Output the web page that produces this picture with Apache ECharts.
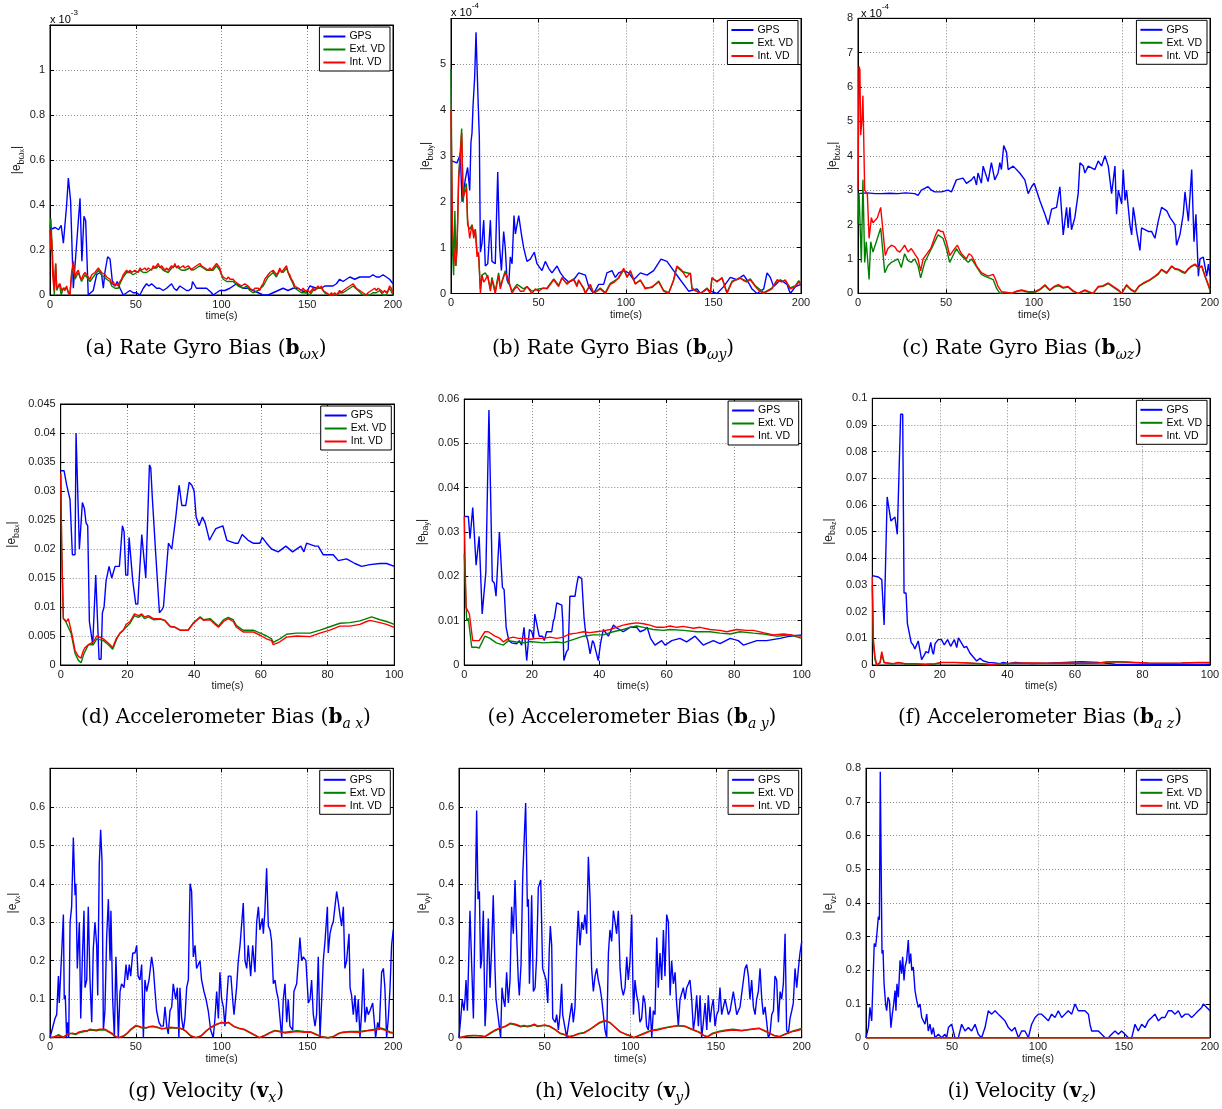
<!DOCTYPE html>
<html>
<head>
<meta charset="utf-8">
<script src="https://cdn.jsdelivr.net/npm/echarts@6/dist/echarts.min.js"></script>
<style>
  html, body { margin: 0; padding: 0; background: #fff; }
  #chart { width: 1222px; height: 1109px; }
</style>
</head>
<body>
<div id="chart"></div>
<script>
// ---- Series data: [time (s), |error|] ----
// (a) rate gyro bias x, values in units of 1e-3
const gpsA = [[0,0.29],[3,0.3],[5,0.29],[6.5,0.31],[7.8,0.23],[9.7,0.4],[10.7,0.52],[12,0.42],[13.6,0.03],[14.6,0.03],[17.5,0.43],[18.6,0.15],[19.8,0.35],[20.8,0.33],[22.3,0],[23.3,0],[25.2,0.02],[27.2,0.09],[29.1,0.1],[30.1,0.09],[31.1,0.03],[32,0.1],[33.6,0.17],[35,0.16],[36.5,0.05],[37.9,0.04],[39.2,0.06],[40.8,0.03],[42.7,0],[44.7,0.01],[46.6,0.02],[48.5,0.01],[50.5,0.01],[52.4,0],[54.4,0.03],[56.3,0.05],[57.7,0.04],[59.2,0.05],[60.7,0.04],[62.1,0.03],[64,0.03],[66,0.02],[68,0.03],[70.9,0.05],[72.3,0.03],[73.8,0.02],[75.7,0.04],[77.7,0.03],[79.6,0.02],[81,0.02],[82.5,0.03],[83.1,0.06],[85.4,0.03],[88.3,0.03],[91.3,0.03],[94.2,0.01],[95.1,0],[97.1,0.01],[99,0.02],[102,0.02],[104.9,0.03],[106.8,0.04],[108.7,0.05],[110.7,0.04],[112.6,0.03],[115.5,0.03],[118.4,0.02],[121.4,0.01],[124.3,0],[127.2,0],[130.1,0.01],[133,0.02],[135.9,0.03],[138.8,0.02],[141.7,0.03],[144.7,0.03],[146.6,0.02],[149.5,0.01],[151.5,0.04],[155.3,0.03],[158.3,0.03],[160.2,0.04],[162.1,0.04],[165,0.04],[167,0.05],[168.9,0.07],[170.9,0.06],[172.8,0.07],[174.8,0.08],[177.7,0.07],[180.6,0.08],[183.5,0.08],[186.4,0.08],[188.3,0.09],[190.3,0.08],[192.2,0.08],[194.2,0.09],[196.1,0.08],[198,0.07],[199,0.06],[200,0.05]];
const extA = [[0,0.3],[0.5,0.34],[1,0.34],[2.5,0],[3.3,0.14],[4,0.02],[5.5,0.05],[6.5,0],[7.8,0.03],[9.7,0.03],[11.6,0],[12.6,0.09],[13.6,0.14],[14.6,0.07],[16.5,0.1],[18.4,0.06],[20.4,0.09],[21.4,0.08],[23.3,0.06],[25.2,0.08],[26.2,0.09],[28.2,0.11],[30.1,0.09],[31.1,0.09],[33,0.07],[35,0.06],[36,0.04],[37.9,0.03],[39.8,0.03],[40.8,0.05],[42.7,0.08],[44.7,0.1],[46.6,0.1],[48.5,0.09],[50.5,0.1],[52.4,0.11],[54.4,0.1],[56.3,0.1],[58.3,0.11],[60.2,0.12],[62.1,0.12],[63.1,0.13],[65,0.12],[66,0.11],[68.9,0.1],[70.9,0.12],[72.8,0.13],[74.8,0.12],[76.7,0.11],[78.6,0.11],[81.6,0.12],[83.5,0.11],[85.4,0.12],[87.4,0.13],[89.3,0.12],[91.3,0.11],[93.2,0.11],[95.1,0.11],[97.1,0.13],[99,0.11],[101,0.07],[103,0.06],[106.8,0.06],[109.7,0.04],[112.6,0.03],[114.6,0.04],[116.5,0.02],[118.4,0.01],[121.4,0.02],[124.3,0.04],[127.2,0.08],[130.1,0.1],[132,0.08],[134,0.11],[135.9,0.1],[137.9,0.12],[139.8,0.08],[141.7,0.05],[142.7,0.03],[144.7,0.02],[146.6,0.01],[149.5,0.01],[151.5,0],[153.4,0.02],[156.3,0.03],[158.3,0.03],[160.2,0.01],[163.1,0],[167,0],[168.9,0.01],[170.9,0.01],[172.8,0.02],[174.8,0.03],[176.7,0.04],[179.6,0.02],[182.5,0],[184.5,0],[186.4,0],[188.3,0.01],[190.3,0.01],[192.2,0.02],[194.2,0],[196.1,0],[198,0.03],[200,0]];
const intA = [[0,0.29],[0.5,0.2],[1,0.25],[1.5,0.1],[2,0.05],[2.5,0.02],[3.3,0.14],[3.9,0.03],[4.8,0.04],[5.8,0.05],[6.8,0.02],[7.8,0.03],[8.7,0.02],[9.7,0.04],[10.6,0.01],[11.6,0],[12.6,0.1],[13.6,0.15],[14.6,0.08],[15.5,0.1],[16.5,0.11],[17.5,0.08],[18.4,0.07],[19.4,0.09],[20.4,0.1],[21.4,0.09],[22.3,0.08],[23.3,0.07],[24.3,0.09],[25.2,0.09],[26.2,0.1],[27.2,0.1],[28.2,0.12],[29.1,0.11],[30.1,0.1],[31.1,0.1],[32.1,0.09],[33,0.08],[34,0.08],[35,0.07],[36,0.05],[36.9,0.06],[37.9,0.04],[38.8,0.05],[39.8,0.04],[40.8,0.06],[41.7,0.07],[42.7,0.09],[43.7,0.1],[44.7,0.11],[45.6,0.1],[46.6,0.11],[47.6,0.1],[48.5,0.1],[49.5,0.11],[50.5,0.11],[51.5,0.1],[52.4,0.12],[53.4,0.11],[54.4,0.11],[55.3,0.12],[56.3,0.11],[57.3,0.12],[58.3,0.12],[59.2,0.11],[60.2,0.13],[61.2,0.12],[62.1,0.13],[63.1,0.14],[64.1,0.12],[65,0.13],[66,0.12],[67,0.11],[68,0.12],[68.9,0.11],[69.9,0.12],[70.9,0.13],[71.8,0.12],[72.8,0.14],[73.8,0.12],[74.8,0.13],[75.7,0.12],[76.7,0.12],[77.7,0.13],[78.6,0.12],[79.6,0.12],[80.6,0.13],[81.6,0.13],[82.5,0.11],[83.5,0.12],[84.5,0.12],[85.4,0.13],[86.4,0.13],[87.4,0.14],[88.3,0.13],[89.3,0.13],[90.3,0.12],[91.3,0.12],[92.2,0.11],[93.2,0.12],[94.2,0.11],[95.1,0.12],[96.1,0.13],[97.1,0.14],[98.1,0.13],[99,0.12],[100,0.09],[101,0.08],[102,0.08],[103,0.07],[104,0.08],[105,0.07],[106.8,0.07],[107.8,0.06],[108.7,0.06],[109.7,0.05],[110.7,0.05],[111.7,0.04],[112.6,0.04],[113.6,0.05],[114.6,0.05],[115.5,0.04],[116.5,0.03],[117.5,0.03],[118.4,0.02],[119.4,0.03],[120.4,0.03],[121.4,0.03],[122.3,0.02],[123.3,0.04],[124.3,0.05],[125.2,0.07],[126.2,0.08],[127.2,0.09],[128.2,0.1],[129.1,0.1],[130.1,0.11],[131.1,0.1],[132,0.09],[133,0.1],[134,0.12],[135,0.1],[135.9,0.11],[136.9,0.12],[137.9,0.13],[138.8,0.1],[139.8,0.09],[140.8,0.07],[141.7,0.06],[142.7,0.04],[143.7,0.04],[144.7,0.03],[145.6,0.03],[146.6,0.02],[147.6,0.03],[148.5,0.02],[149.5,0.02],[150.5,0.02],[151.5,0.01],[152.4,0.02],[153.4,0.03],[154.4,0.02],[155.3,0.03],[156.3,0.04],[157.3,0.03],[158.3,0.04],[159.2,0.02],[160.2,0.02],[161.2,0.01],[162.1,0.01],[163.1,0],[164.1,0.01],[165,0],[166,0.01],[167,0],[168,0.01],[168.9,0.02],[169.9,0.01],[170.9,0.02],[171.8,0.02],[172.8,0.03],[173.8,0.03],[174.8,0.04],[175.7,0.04],[176.7,0.05],[177.7,0.04],[178.6,0.03],[179.6,0.03],[180.6,0.02],[181.6,0.02],[182.5,0.01],[183.5,0.01],[184.5,0],[185.4,0.01],[186.4,0.01],[187.4,0.02],[188.3,0.02],[189.3,0.03],[190.3,0.02],[191.3,0.03],[192.2,0.03],[193.2,0.02],[194.2,0.01],[195.1,0.02],[196.1,0.01],[197.1,0.02],[198,0.04],[199,0.03],[200,0.01]];

// (b) rate gyro bias y, values in units of 1e-4
const gpsB = [[0,2.9],[3.4,2.85],[5,3.0],[5.3,3.05],[6.3,2.0],[7.2,2.2],[8.2,2.5],[9.5,2.75],[10.7,2.25],[11.4,3.3],[12,3.5],[12.6,4.1],[13.5,4.7],[14.3,5.7],[14.9,5.7],[15.4,4.3],[16.2,3.4],[16.8,0.9],[17.7,1.1],[18.7,1.6],[19.6,0.6],[21,0.65],[22.5,1.6],[23.4,0.7],[25.3,0.65],[26.7,2.65],[27.8,1.0],[28.8,0.5],[30.1,1.35],[31,1.0],[32,0.3],[33,0.2],[33.9,0.8],[34.9,0.65],[36,1.7],[36.8,1.3],[38.7,1.7],[40.2,1.3],[41.5,1.0],[43.4,0.7],[45.3,0.75],[47.6,0.9],[49.1,0.65],[52,0.5],[53.9,0.7],[55.8,0.55],[57.7,0.45],[60.6,0.6],[62.5,0.45],[64.4,0.35],[67.2,0.25],[70.1,0.3],[73,0.45],[76.8,0.4],[78.7,0.15],[81.5,0],[84.4,0.2],[87.2,0.2],[89.1,0.45],[92,0.5],[93.9,0.35],[95.8,0.45],[98.7,0.5],[101.5,0.45],[104.4,0.3],[108.2,0.45],[112,0.4],[115.8,0.5],[120,0.75],[123.4,0.7],[127.2,0.5],[131,0.3],[133.9,0.15],[135.8,0.05],[140.6,0.1],[142.5,0],[146.3,0.1],[148.2,0.05],[152,0],[155.8,0.15],[159.6,0.35],[163.4,0.3],[167.2,0.4],[169.1,0.3],[172,0.1],[174.9,0],[178.7,0.1],[180.6,0.45],[182.5,0.35],[184.4,0.15],[188.2,0.3],[192,0.2],[193.9,0],[196.8,0.15],[200,0.2]];
const extB = [[0,4.9],[0.8,1.0],[1.5,0.4],[2.2,1.8],[2.9,0.6],[3.6,1.3],[4.4,2.6],[5.3,3.1],[6.1,3.6],[6.9,2.0],[7.8,2.3],[8.8,2.4],[9.5,1.5],[10.7,1.4],[12,1.5],[13,1.3],[13.9,1.4],[14.9,0.9],[15.8,0.8],[16.8,0.1],[17.7,0.4],[19.6,0.45],[21,0.35],[22.5,0.1],[23.4,0.35],[25.3,0.05],[27.2,0.45],[28.2,0.15],[31,0.5],[32.9,0.25],[34.9,0.05],[37.7,0.2],[41.5,0.1],[43.4,0.15],[46.3,0.05],[50.1,0.1],[54.9,0.12],[58.7,0.32],[61.5,0.18],[63.4,0.33],[66.3,0.22],[70.1,0.32],[72,0.18],[72.9,0.28],[75.8,0.12],[76.8,0.02],[79.6,0.18],[81.5,0],[85.3,0.12],[88.2,0.02],[91,0.22],[95.8,0.33],[98.7,0.52],[100.6,0.37],[102.5,0.48],[105.3,0.22],[108.2,0.28],[111,0.12],[114.9,0.13],[118.7,0.27],[121.5,0.07],[124.4,0.02],[127.2,0.28],[129.1,0.58],[132,0.48],[136.8,0.43],[137.7,0.12],[142.5,0],[146.3,0.12],[148.2,0.02],[149.1,0.33],[152,0.27],[154.9,0.33],[157.7,0.02],[160.6,0.27],[165.3,0.33],[169.1,0.27],[171,0.32],[173.9,0.17],[178.7,0.02],[183.4,0.12],[186.3,0.28],[189.1,0.27],[191,0.28],[193.9,0.12],[196.8,0.17],[198.7,0.28],[200,0.22]];
const intB = [[0,4.0],[0.8,1.5],[1.5,1.0],[2.5,0.6],[3.4,0.9],[4.4,2.5],[5.3,3.0],[6.1,3.5],[6.9,2.1],[7.8,2.2],[8.8,2.3],[9.5,1.6],[10.7,1.2],[12,1.5],[13,1.2],[13.9,1.4],[14.9,0.8],[15.8,0.9],[16.8,0],[17.7,0.4],[18.7,0.25],[19.6,0.3],[21,0.4],[22.5,0.05],[23.4,0.3],[25.3,0],[27.2,0.4],[28.2,0.1],[29.5,0.3],[31,0.45],[32.9,0.3],[34.9,0],[36.3,0.1],[37.7,0.15],[39.6,0.05],[41.5,0.05],[43.4,0.15],[46.3,0],[48.2,0.1],[50.1,0.05],[52.5,0.12],[54.9,0.1],[56.8,0.2],[58.7,0.3],[61.5,0.15],[63.4,0.35],[66.3,0.2],[68.2,0.28],[70.1,0.3],[72,0.15],[72.9,0.3],[75.8,0.1],[76.8,0],[79.6,0.2],[81.5,0],[83.4,0.05],[85.3,0.1],[88.2,0],[91,0.2],[93.4,0.25],[95.8,0.35],[98.7,0.55],[100.6,0.35],[102.5,0.5],[105.3,0.2],[108.2,0.3],[111,0.1],[114.9,0.15],[118.7,0.25],[121.5,0.05],[124.4,0],[127.2,0.3],[129.1,0.6],[132,0.5],[134.4,0.35],[136.8,0.45],[137.7,0.1],[140,0.05],[142.5,0],[146.3,0.1],[148.2,0],[149.1,0.35],[152,0.25],[154.9,0.35],[157.7,0],[160.6,0.25],[163,0.3],[165.3,0.35],[167.2,0.28],[169.1,0.25],[171,0.3],[173.9,0.15],[176.3,0.05],[178.7,0],[181,0.05],[183.4,0.1],[186.3,0.3],[189.1,0.25],[191,0.3],[193.9,0.1],[196.8,0.15],[198.7,0.25],[200,0.2]];

// (c) rate gyro bias z, values in units of 1e-4
const gpsC = [[0,2.9],[5,2.92],[10,2.9],[13.3,2.9],[18,2.91],[22.7,2.9],[27,2.92],[32.2,2.9],[34.1,2.85],[36,3.0],[39.8,3.1],[41.7,3.0],[43.6,2.95],[47.4,2.95],[51.2,3.0],[53.1,2.95],[55.9,3.3],[59.7,3.35],[61.6,3.2],[64.5,3.3],[66,3.4],[67.3,3.15],[68.2,3.5],[70.1,3.2],[71.1,3.7],[72,3.7],[73.9,3.25],[75.8,3.8],[77.7,3.3],[79.6,3.5],[80.6,3.8],[81.5,3.6],[82.8,4.3],[84.4,4.1],[85.3,3.6],[88.2,3.7],[91.9,3.5],[94.8,3.3],[96.7,2.9],[98.6,3.1],[100.1,3.2],[101.4,3.0],[103.3,2.7],[106.2,2.3],[108.1,2.0],[110,2.45],[112.8,2.5],[114.7,3.1],[116.6,1.7],[118.5,2.5],[119.4,1.9],[120.4,2.5],[121.3,1.85],[123.2,2.2],[125.1,2.9],[126.1,3.8],[128,3.7],[128.9,3.5],[130.8,3.7],[134.6,3.6],[136.5,3.85],[138.4,3.7],[140.3,4.0],[142.2,3.7],[144.1,2.9],[146,3.7],[146.9,2.3],[147.9,3.0],[149.8,2.6],[150.7,3.6],[151.7,2.7],[152.6,3.0],[154.5,2.0],[155.5,1.7],[156.4,2.5],[157.3,2.2],[158.3,1.8],[160.2,1.25],[161.1,1.9],[164.9,1.8],[166.8,1.8],[168.7,1.6],[170.6,2.1],[172.5,2.5],[175.4,2.4],[177.3,2.2],[180.1,2.0],[181,1.4],[182.9,1.7],[184.8,2.3],[185.8,2.95],[187.7,2.1],[189.6,3.6],[190.9,1.5],[192,2.3],[193.4,0.5],[194.3,1.0],[196.2,1.05],[198.1,0.5],[199.1,0.85],[200,0.5]];
const extC = [[0,2.0],[0.6,2.9],[1.9,0.9],[2.8,3.3],[3.8,0.9],[4.7,1.5],[6.3,0.4],[7.2,1.5],[8.5,1.2],[10.4,1.5],[12.9,1.9],[15.2,0.6],[17,0.8],[19,0.9],[20.9,0.95],[22.7,1.0],[24.6,0.75],[26.5,1.15],[28.4,0.95],[30.3,0.9],[32.2,1.0],[34.1,0.8],[35.6,0.45],[37.9,0.9],[39.8,1.1],[42.7,1.4],[45.5,1.7],[48.3,1.6],[50.2,1.3],[52.1,0.9],[54,1.1],[55.9,1.3],[57.8,1.15],[59.7,1.05],[62.6,0.9],[64.5,1.0],[66.4,0.85],[68.2,0.7],[70.1,0.55],[72,0.5],[74.4,0.45],[76.8,0.4],[78.7,0.15],[80.6,0],[84,0.02],[87.2,0],[90,0.05],[92.9,0.08],[96.7,0.03],[100.5,0.03],[103.3,0.1],[106.2,0.22],[109,0.08],[111.4,0.18],[113.8,0.22],[116.6,0.15],[119.4,0.18],[122.3,0.05],[125.1,0],[128.9,0.08],[131.2,0.03],[133.6,0],[136.5,0.18],[139.3,0.2],[142.2,0.28],[145,0.18],[147.9,0.08],[149.8,0],[152.6,0.22],[155,0.1],[157.3,0.03],[159.7,0.2],[162.1,0.28],[165.9,0.38],[168.7,0.48],[170.6,0.55],[172.5,0.68],[175.4,0.58],[178.2,0.78],[180.1,0.7],[182,0.68],[183.9,0.62],[185.8,0.58],[187.7,0.7],[189.6,0.78],[191.5,0.83],[193.4,0.73],[195.3,0.78],[197.2,0.48],[199.1,0.22],[200,0.08]];
const intC = [[0,3.0],[0.6,6.6],[1.1,6.5],[1.5,4.6],[2.2,5.0],[2.8,5.75],[3.8,3.0],[5.3,2.9],[6.3,1.6],[7.6,2.2],[8.5,2.05],[9.5,2.0],[11,2.2],[12.9,2.5],[14.2,1.8],[15.5,1.1],[17,1.3],[19,1.4],[20.9,1.35],[22.2,1.25],[23.7,1.2],[25.2,1.3],[26.5,1.4],[28.4,1.2],[30.3,1.3],[32.2,1.15],[34.1,1.0],[35.6,0.65],[37,1.0],[39.8,1.2],[41.3,1.3],[42.7,1.5],[44.1,1.7],[45.5,1.85],[47,1.8],[48.3,1.8],[50.2,1.5],[52.1,1.1],[53.5,1.2],[54.9,1.3],[56.5,1.4],[57.8,1.25],[58.8,1.15],[61.6,1.0],[63,1.15],[64.5,1.1],[66,0.95],[67.3,0.8],[70.1,0.6],[72,0.55],[73.9,0.5],[76.8,0.55],[78.2,0.4],[79.6,0.2],[81.5,0.05],[84,0.03],[87.2,0],[90,0.06],[92.9,0.1],[96.7,0.05],[100.5,0.05],[103.3,0.12],[106.2,0.25],[109,0.1],[111.4,0.2],[113.8,0.25],[116.6,0.17],[119.4,0.2],[122.3,0.07],[125.1,0],[128.9,0.1],[131.2,0.05],[133.6,0],[136.5,0.2],[139.3,0.22],[142.2,0.3],[145,0.2],[147.9,0.1],[149.8,0],[152.6,0.25],[155,0.12],[157.3,0.05],[159.7,0.22],[162.1,0.3],[165.9,0.4],[168.7,0.5],[170.6,0.58],[172.5,0.7],[175.4,0.6],[178.2,0.8],[180.1,0.72],[182,0.7],[183.9,0.65],[185.8,0.6],[187.7,0.72],[189.6,0.8],[191.5,0.85],[193.4,0.75],[195.3,0.8],[197.2,0.5],[199.1,0.25],[200,0.1]];

// (d) accelerometer bias x
const gpsD = [[0,0.0335],[1,0.0335],[1.8,0.031],[2.8,0.0285],[3.1,0.0285],[3.5,0.019],[4.3,0.019],[4.6,0.04],[5.1,0.04],[5.6,0.02],[6.1,0.02],[6.5,0.028],[7.1,0.027],[7.6,0.0245],[8.1,0.024],[8.6,0.0075],[9,0.0075],[9.6,0.0035],[10.1,0.0035],[10.5,0.0155],[11,0.0155],[11.5,0.001],[12.1,0.001],[12.5,0.009],[13,0.01],[13.6,0.0145],[14.5,0.017],[15.3,0.015],[16.3,0.017],[17.6,0.017],[18.5,0.024],[19,0.023],[19.5,0.0155],[20.1,0.0155],[20.5,0.022],[21,0.022],[21.6,0.0145],[22.5,0.0105],[23.1,0.0105],[24.3,0.0225],[24.8,0.0225],[25.5,0.015],[26,0.015],[26.6,0.0345],[27,0.034],[27.5,0.0285],[28,0.0285],[28.5,0.019],[29.6,0.009],[30.3,0.0095],[30.8,0.01],[32.3,0.021],[33.3,0.02],[34.5,0.0255],[35.5,0.031],[36.3,0.0275],[37.5,0.0275],[38.5,0.0315],[39.3,0.031],[40,0.03],[40.6,0.0255],[41.5,0.024],[42.5,0.0255],[43.3,0.0245],[44.6,0.0215],[45.5,0.0225],[46.5,0.0235],[48.6,0.024],[49.8,0.0215],[52.2,0.021],[53.2,0.021],[54.4,0.0225],[56.2,0.0215],[57.7,0.021],[59.7,0.021],[60.4,0.022],[61.7,0.021],[63.2,0.02],[65.2,0.0195],[67.5,0.0205],[69.5,0.0195],[72,0.0205],[72.9,0.0195],[73.7,0.021],[76.2,0.0205],[77.2,0.0205],[78.7,0.019],[81.7,0.019],[83.2,0.018],[85.7,0.0183],[88.2,0.0175],[90.2,0.017],[92.7,0.0173],[95.7,0.0175],[97.7,0.0175],[100,0.017]];
const extD = [[0,0.033],[0.3,0.02],[0.8,0.008],[1.5,0.0075],[3.1,0.0055],[4.3,0.002],[5.3,0.0008],[6.1,0.0004],[7,0.002],[8.3,0.0035],[9.8,0.0035],[10.8,0.0045],[12.8,0.0042],[14.3,0.0035],[15.6,0.0027],[16.8,0.0045],[17.8,0.0055],[19.6,0.0065],[20.8,0.0072],[22.1,0.0085],[23.3,0.0082],[24.3,0.0086],[25.1,0.008],[26.3,0.0083],[27.8,0.0078],[29.8,0.0079],[31.3,0.0076],[32.8,0.0066],[34.3,0.0065],[35.8,0.006],[38.2,0.006],[39.8,0.0073],[41.8,0.0083],[42.8,0.0078],[44.8,0.008],[46.3,0.0072],[47.3,0.0067],[48.8,0.0078],[50.2,0.0082],[51.7,0.0078],[52.7,0.0068],[54.7,0.006],[57.7,0.006],[60.2,0.0054],[61.7,0.005],[63.2,0.0045],[63.7,0.0039],[65.7,0.0045],[67.7,0.0053],[70.7,0.0055],[74.7,0.0055],[77.7,0.006],[80.7,0.0066],[83.7,0.0072],[86.7,0.0073],[89.7,0.0076],[91.7,0.008],[93.2,0.0083],[95.7,0.0078],[97.7,0.0075],[100,0.007]];
const intD = [[0,0.033],[0.3,0.02],[0.8,0.008],[1.8,0.0075],[2.3,0.008],[3.3,0.0055],[4.3,0.0025],[5.3,0.0015],[6.1,0.0012],[6.8,0.0025],[7.3,0.003],[8.3,0.0035],[9.8,0.004],[10.8,0.005],[12.8,0.0045],[13.8,0.004],[14.8,0.0035],[15.6,0.003],[16.6,0.0045],[17.8,0.0055],[18.8,0.006],[19.6,0.007],[20.8,0.0075],[22.1,0.0088],[23.3,0.0085],[24.3,0.0088],[25.1,0.0083],[26.3,0.0085],[27.8,0.008],[29.8,0.008],[31.3,0.0077],[32.8,0.0067],[34.3,0.0065],[35.8,0.006],[38.2,0.006],[39.8,0.0072],[41.8,0.0082],[42.8,0.0077],[44.8,0.0078],[46.3,0.007],[47.3,0.0065],[48.8,0.0075],[50.2,0.008],[51.7,0.0075],[52.7,0.0065],[54.7,0.0057],[57.7,0.0057],[60.2,0.005],[61.7,0.0045],[63.2,0.0042],[63.7,0.0035],[65.7,0.004],[67.7,0.0048],[70.7,0.005],[74.7,0.0049],[77.7,0.0055],[80.7,0.006],[83.7,0.0067],[86.7,0.0067],[89.7,0.007],[91.7,0.0075],[92.7,0.0077],[95.7,0.0073],[97.7,0.007],[100,0.0065]];

// (e) accelerometer bias y
const gpsE = [[0,0.0335],[1.2,0.0335],[1.7,0.0285],[2,0.0285],[2.5,0.0355],[3,0.0355],[3.5,0.0225],[4,0.0225],[4.4,0.029],[4.8,0.029],[5.3,0.0115],[5.8,0.0115],[6.4,0.021],[6.8,0.021],[7.3,0.0575],[7.8,0.0575],[8.3,0.019],[8.9,0.0185],[9.4,0.0155],[9.9,0.0155],[10.4,0.03],[10.8,0.03],[11.3,0.0175],[11.8,0.017],[12.4,0.0085],[12.7,0.0085],[13.2,0.0055],[14,0.005],[15.5,0.0048],[16.3,0.0055],[17,0.0045],[17.7,0.0085],[18,0.0085],[18.5,0.001],[19,0.001],[19.3,0.008],[20,0.0075],[20.5,0.006],[20.9,0.0115],[21.4,0.0115],[22.2,0.0065],[23.2,0.0065],[23.7,0.0055],[24.4,0.0075],[25.9,0.0075],[26.4,0.01],[26.7,0.0105],[27.4,0.014],[28.9,0.0135],[29.2,0.0095],[29.5,0.001],[30,0.001],[30.3,0.003],[30.8,0.0035],[31.3,0.0155],[32.8,0.0155],[33.3,0.018],[33.8,0.02],[34.8,0.0195],[35.5,0.0105],[36,0.007],[36.6,0.0055],[37.3,0.0025],[38,0.0055],[38.4,0.005],[39.7,0.001],[40.4,0.005],[41.2,0.008],[42.7,0.0065],[44.2,0.009],[44.9,0.0085],[47.1,0.0075],[49.1,0.0085],[51.1,0.0085],[52.1,0.0075],[53.6,0.008],[54.2,0.0085],[55.2,0.006],[56.5,0.0045],[58.5,0.0055],[59.5,0.0045],[61.5,0.0055],[63.9,0.006],[65.9,0.0052],[68.4,0.0065],[70.8,0.0045],[73.8,0.0055],[75.8,0.0048],[78.8,0.006],[81.2,0.0055],[82.7,0.0045],[86.7,0.0055],[89.6,0.0055],[93.6,0.006],[96.5,0.0065],[100,0.0068]];
const extE = [[0,0.025],[0.7,0.01],[1.2,0.0105],[2.2,0.004],[3.7,0.004],[4.4,0.0038],[6.1,0.0065],[7.6,0.006],[9.5,0.005],[11.6,0.0045],[13.1,0.0055],[15.5,0.0052],[18,0.005],[19.5,0.0053],[23.4,0.005],[27.4,0.0052],[29.3,0.005],[31.3,0.0055],[33.3,0.006],[35.3,0.0065],[38.2,0.0068],[41.2,0.0068],[44.1,0.0075],[47.1,0.008],[49.1,0.0085],[51.1,0.0088],[53.1,0.0085],[56,0.008],[59,0.0078],[61,0.008],[65,0.0078],[68.9,0.0075],[72.8,0.0075],[75.8,0.0072],[78.8,0.007],[81.7,0.0075],[85.7,0.0072],[88.6,0.007],[92.6,0.0065],[96.5,0.0068],[100,0.006]];
const intE = [[0,0.0335],[0.5,0.013],[1.2,0.012],[1.5,0.0115],[2.5,0.0055],[3.7,0.0055],[4.4,0.0055],[6.1,0.0075],[7.1,0.0075],[9.1,0.0065],[10.6,0.006],[11.6,0.0052],[13.1,0.006],[14.5,0.0063],[16,0.006],[18,0.006],[19.5,0.0058],[21.4,0.006],[23.4,0.006],[25.4,0.0063],[27.4,0.006],[29.3,0.0063],[31.3,0.007],[33.3,0.0072],[35.3,0.0075],[37.2,0.0073],[39.2,0.0075],[41.2,0.0077],[43.2,0.008],[45.1,0.0085],[47.1,0.009],[49.1,0.0093],[51.1,0.0095],[53.1,0.0093],[55,0.009],[57,0.0085],[59,0.0085],[61,0.0088],[63,0.0085],[64.9,0.0087],[67.9,0.0083],[69.9,0.0085],[72.8,0.008],[75.8,0.0078],[77.8,0.0075],[80.7,0.008],[83.7,0.0078],[85.7,0.0078],[88.6,0.0073],[91.6,0.0068],[94.6,0.007],[97.5,0.0067],[100,0.0065]];

// (f) accelerometer bias z
const gpsF = [[0,0.0335],[1.8,0.033],[2.8,0.032],[3.5,0.015],[3.9,0.015],[4.4,0.063],[4.9,0.063],[5.5,0.054],[5.9,0.0545],[6.7,0.0555],[7.4,0.049],[7.9,0.0495],[8.4,0.094],[9,0.094],[9.4,0.027],[10,0.027],[10.4,0.0155],[10.9,0.0155],[11.5,0.0085],[12.1,0.0075],[12.6,0.006],[13.6,0.009],[14.6,0.002],[15.3,0.0035],[15.9,0.005],[16.6,0.0045],[17.3,0.0085],[17.8,0.005],[18.1,0.004],[18.6,0.008],[19.5,0.0095],[20.5,0.0095],[21.3,0.0075],[22.3,0.0095],[23.2,0.007],[24.3,0.0095],[25,0.0065],[25.5,0.0102],[26.3,0.0085],[27.2,0.0065],[27.9,0.007],[28.9,0.0045],[29.9,0.003],[30.9,0.0015],[31.9,0.0025],[32.9,0.0015],[34.4,0.001],[36.3,0.0008],[37.8,0.0005],[38.8,0.001],[40.3,0.0005],[42.3,0.001],[47.2,0.0005],[52.1,0.0007],[57.1,0.001],[62,0.0012],[66.9,0.001],[71.9,0.0003],[76.8,0.0002],[81.7,0.0003],[91.6,0.0002],[100,0.0003]];
const extF = [[0,0.03],[0.3,0.008],[0.8,0.002],[1.3,0],[2.3,0.0008],[2.8,0.004],[3.5,0.0008],[4.7,0.0006],[6.2,0.0004],[7.7,0.0008],[9.7,0.0004],[12.6,0.0004],[15.6,0.0002],[18.6,0.0004],[20.5,0.0009],[24.5,0.0009],[28.4,0.0007],[32.4,0.0004],[35.3,0.0001],[38.3,0.0004],[42.3,0.0006],[47.2,0.0007],[52.1,0.0006],[57.1,0.0007],[62,0.0005],[66.9,0.0007],[69.9,0.0011],[73.8,0.0011],[77.8,0.0009],[81.7,0.0007],[86.7,0.0006],[91.6,0.0007],[96.5,0.0009],[100,0.0009]];
const intF = [[0,0.033],[0.3,0.01],[0.8,0.003],[1.3,0],[2.3,0.001],[2.8,0.005],[3.5,0.001],[4.7,0.0008],[6.2,0.0005],[7.7,0.001],[9.7,0.0005],[12.6,0.0005],[15.6,0.0003],[18.6,0.0005],[20.5,0.001],[24.5,0.001],[28.4,0.0008],[32.4,0.0005],[35.3,0.0002],[38.3,0.0005],[42.3,0.0007],[47.2,0.0008],[52.1,0.0007],[57.1,0.0008],[62,0.0006],[66.9,0.0008],[69.9,0.0012],[73.8,0.0012],[77.8,0.001],[81.7,0.0008],[86.7,0.0007],[91.6,0.0008],[96.5,0.001],[100,0.001]];

// (g) velocity x
const gpsG = [[0,0],[2.9,0.05],[3.9,0.06],[4.9,0.16],[5.4,0.09],[6.2,0.09],[6.8,0.22],[7.8,0.32],[8.3,0.1],[8.9,0.11],[9.7,0],[10.3,0.04],[10.9,0],[11.7,0.3],[12.6,0.34],[13.6,0.52],[14.6,0.37],[15.1,0.4],[15.9,0.18],[17.1,0.3],[17.9,0.05],[18.8,0.2],[19.8,0.33],[20.4,0.13],[21.4,0.15],[22.3,0.34],[23.3,0.15],[24.3,0.04],[25.2,0.23],[26.2,0.3],[27.2,0.24],[27.8,0.11],[28.7,0.45],[29.5,0.54],[30.3,0.46],[31.1,0.02],[32,0.07],[33,0.26],[34,0.36],[35,0.2],[35.5,0.33],[36.5,0.1],[37.5,0],[38.4,0.21],[39.8,0],[40.8,0.12],[41.7,0.14],[43.1,0.13],[44.3,0.19],[45.2,0.15],[46.2,0.19],[47,0.16],[48.2,0.22],[49.5,0.22],[50.5,0.24],[51.3,0.16],[52.4,0.15],[53.4,0.19],[54.4,0],[55.3,0.15],[56.3,0.12],[57.7,0.15],[59.2,0.21],[60.2,0.18],[61.2,0.12],[62.1,0.07],[63.5,0.04],[64.7,0.03],[66,0.03],[67,0.08],[68,0.03],[68.9,0.01],[69.9,0.07],[70.9,0.08],[71.8,0.14],[73.2,0.1],[74.2,0.13],[75.1,0],[75.7,0.13],[76.7,0.05],[77.7,0.02],[78.6,0.05],[79.6,0.13],[80.6,0.15],[81.6,0.4],[82.5,0.38],[83.5,0.21],[84.5,0.24],[85.4,0.18],[87.4,0.2],[88.3,0.15],[89.7,0.12],[90.9,0.1],[92.2,0.07],[93.6,0.02],[95.1,0],[96.1,0.05],[97.1,0.12],[98.1,0.05],[99,0.17],[100,0.1],[101,0.08],[101.9,0.03],[103.9,0.16],[105.4,0.16],[106.4,0.1],[107.2,0.06],[108.7,0.13],[109.7,0.2],[110.7,0.24],[112.6,0.35],[113.6,0.2],[114.6,0.18],[115.5,0.24],[116.9,0.16],[118.1,0.24],[119.4,0.17],[120.4,0.3],[121.4,0.34],[122.3,0.28],[123.7,0.31],[124.3,0.27],[125.2,0.33],[126.2,0.44],[127.2,0.29],[128.2,0.28],[129.1,0.25],[130.1,0.14],[131.1,0.15],[132,0.12],[133,0.1],[134,0.05],[135,0],[135.9,0.1],[136.9,0.14],[137.9,0.04],[138.8,0.1],[139.8,0.03],[141.4,0.02],[142.1,0.12],[143.7,0.14],[144.7,0.2],[145.6,0.26],[146.6,0.2],[147.6,0.21],[149.1,0.2],[150.5,0.09],[151.5,0.1],[152.4,0.15],[153.4,0.06],[154.4,0.03],[155.3,0.06],[156.3,0.21],[157.3,0],[158.3,0.1],[159.2,0.2],[160.2,0.25],[161.6,0.34],[162.1,0.22],[163.1,0.27],[164.1,0.29],[165,0.3],[166,0.34],[167,0.38],[168,0.35],[168.9,0.32],[169.9,0.29],[170.9,0.34],[171.8,0.18],[172.8,0.2],[174.2,0.27],[174.8,0.13],[175.7,0.11],[176.7,0.06],[177.7,0.11],[178.6,0.04],[179.6,0.1],[180.6,0],[181.6,0.07],[182.5,0.18],[183.5,0.04],[184.5,0.08],[185.4,0.06],[186.4,0.07],[188,0.09],[188.7,0.09],[189.7,0],[190.9,0.04],[191.8,0.02],[193.2,0.17],[194.2,0.18],[195.1,0.13],[196.1,0],[197.1,0.05],[198.1,0.13],[199,0.24],[200,0.28]];
const extG = [[0,0],[2,0.001],[5,0.008],[6.5,0.004],[8,0.002],[10,0.008],[11.5,0.012],[13,0.01],[15,0.008],[17,0.013],[20,0.016],[21.5,0.018],[23,0.02],[25,0.019],[27,0.018],[29,0.02],[30,0.018],[32,0.02],[33,0.019],[36,0.01],[38,0.003],[40,0],[43,0.004],[45,0.011],[47,0.02],[50,0.03],[51.5,0.029],[53,0.026],[56,0.025],[58,0.028],[60,0.029],[63,0.026],[65,0.023],[67,0.024],[70,0.026],[73,0.025],[75,0.025],[77,0.022],[79,0.017],[82,0.004],[85,0],[88,0.004],[91,0.017],[94,0.027],[97,0.034],[100,0.039],[102,0.037],[104,0.039],[107,0.029],[110,0.024],[113,0.021],[116,0.014],[119,0.007],[122,0],[125,0.006],[128,0.013],[131,0.019],[134,0.017],[137,0.014],[140,0.016],[144,0.018],[148,0.016],[152,0.015],[155,0.009],[158,0.003],[162,0],[165,0.003],[168,0.011],[170,0.014],[175,0.016],[180,0.016],[185,0.019],[189,0.022],[192,0.026],[195,0.022],[198,0.015],[200,0.013]];
const intG = [[0,0],[2,0.002],[5,0.005],[6.5,0.003],[8,0],[10,0.01],[11.5,0.01],[13,0.012],[15,0.01],[17,0.015],[20,0.018],[21.5,0.016],[23,0.022],[25,0.021],[27,0.02],[29,0.022],[30,0.02],[32,0.022],[33,0.02],[36,0.012],[38,0.004],[40,0],[43,0.005],[45,0.012],[47,0.022],[50,0.032],[51.5,0.03],[53,0.028],[56,0.026],[58,0.029],[60,0.03],[63,0.027],[65,0.024],[67,0.025],[70,0.027],[73,0.026],[75,0.026],[77,0.023],[79,0.018],[82,0.005],[85,0],[88,0.005],[91,0.018],[94,0.028],[97,0.035],[100,0.04],[102,0.038],[104,0.04],[107,0.03],[110,0.025],[113,0.022],[116,0.015],[119,0.008],[122,0],[125,0.005],[128,0.012],[131,0.018],[134,0.015],[137,0.012],[140,0.014],[144,0.016],[148,0.014],[152,0.014],[155,0.008],[158,0.002],[162,0],[165,0.002],[168,0.01],[170,0.013],[175,0.015],[180,0.014],[185,0.018],[189,0.02],[192,0.024],[195,0.02],[198,0.013],[200,0.012]];

// (h) velocity y
const gpsH = [[0,0],[1,0.05],[1.9,0.1],[2.9,0.07],[3.5,0.1],[4.1,0.15],[4.9,0.07],[5.6,0.07],[6.4,0.33],[7.4,0.33],[8.4,0.05],[9.3,0.3],[10.3,0.59],[11.1,0.36],[11.9,0.38],[12.6,0.18],[13.2,0.2],[14.2,0.33],[15.2,0.03],[15.8,0.08],[17.1,0.31],[18.1,0.13],[19.1,0.24],[20,0.37],[21,0.18],[21.6,0.1],[22.4,0.1],[23.5,0.03],[24.3,0],[25.1,0.13],[25.9,0.1],[26.8,0.08],[27.8,0.17],[28.8,0.09],[29.8,0.15],[30.7,0.34],[31.7,0.27],[32.7,0.41],[33.7,0.26],[34.6,0.15],[35.2,0.11],[36.2,0.19],[37.2,0.42],[38.9,0.61],[39.9,0.34],[40.5,0.36],[41.1,0.14],[41.8,0.24],[42.4,0.37],[43.4,0.12],[44.4,0.13],[45.3,0.21],[46.3,0.39],[47.7,0.41],[48.8,0.18],[49.8,0.18],[50.8,0.15],[51.8,0.09],[52.7,0.23],[53.3,0.29],[54.1,0.24],[54.7,0.05],[55.4,0.05],[56.2,0.04],[57,0.06],[58,0.02],[58.9,0.06],[59.9,0.14],[60.5,0.06],[61.3,0.06],[62.1,0.02],[62.8,0],[63.8,0.03],[64.8,0.06],[65.8,0.09],[66.7,0.04],[67.7,0.08],[68.7,0.24],[69.6,0.33],[70.6,0.24],[71.6,0.3],[72.6,0.28],[73.5,0.32],[74.5,0.27],[75.5,0.47],[76.5,0.36],[77.4,0.18],[78.4,0.12],[79.4,0.16],[80.4,0.18],[81.3,0.15],[82.3,0.13],[83.3,0.1],[84.2,0.1],[85.2,0.02],[86.2,0],[87.2,0.22],[88.1,0.28],[89.1,0.25],[90.1,0.33],[91.1,0.3],[92,0.27],[93,0.33],[94,0.18],[94.9,0.13],[95.9,0.11],[96.9,0.13],[97.9,0.21],[98.8,0.15],[99.8,0.2],[100.8,0.32],[101.8,0.06],[102.7,0.15],[103.7,0.11],[104.7,0.09],[105.6,0.04],[106.6,0.05],[107.6,0.11],[108.6,0.09],[109.5,0.03],[110.5,0.02],[111.5,0.08],[112.5,0],[113.4,0.07],[114.4,0.06],[115.4,0.26],[116.3,0.13],[117.3,0.22],[118.3,0.15],[119.3,0.28],[120.2,0.16],[121.2,0.32],[122.2,0.3],[123.2,0.11],[124.1,0.2],[125.1,0.14],[126.1,0.17],[127,0.09],[128,0.03],[129,0.1],[130,0.1],[130.9,0.13],[131.9,0.1],[132.9,0.13],[133.9,0.14],[134.8,0.15],[135.8,0.1],[136.8,0.02],[137.7,0.05],[138.7,0.11],[139.7,0.03],[140.7,0.11],[141.6,0],[142.6,0.04],[143.6,0.09],[144.6,0.02],[145.5,0.11],[146.5,0.04],[147.5,0.08],[148.4,0.1],[149.4,0.03],[150.4,0.06],[151.4,0.07],[152.3,0.13],[153.3,0.06],[154.3,0.06],[155.3,0.1],[156.2,0.1],[157.2,0.06],[158.2,0.07],[160.1,0.12],[162.1,0.06],[164,0.08],[166,0.15],[166.9,0.18],[167.9,0.19],[168.9,0.16],[169.8,0.1],[170.8,0.15],[171.8,0.08],[172.8,0.06],[173.7,0.1],[174.7,0.12],[175.7,0.18],[176.7,0.1],[177.6,0.06],[178.6,0.08],[179.6,0.04],[180.5,0],[181.5,0.01],[182.5,0.06],[183.5,0.07],[184.4,0.16],[185.4,0.15],[186.4,0.04],[187.4,0.12],[188.3,0.1],[189.3,0.14],[190.3,0.27],[191.2,0.02],[192.2,0.01],[193.2,0.05],[194.2,0.07],[195.1,0.09],[196.1,0.18],[197.1,0.13],[198.1,0.18],[199,0.22],[200,0.25]];
const extH = [[0,0],[3,0.002],[5,0.004],[8,0.005],[10,0.006],[13,0.004],[15,0.003],[18,0.01],[21,0.018],[24,0.024],[27,0.029],[30,0.036],[33,0.033],[36,0.028],[38,0.03],[40,0.028],[42,0.03],[44,0.033],[46,0.029],[47,0.032],[50,0.032],[53,0.029],[56,0.021],[59,0.011],[62,0.007],[64.5,0.003],[67,0.006],[70,0.011],[73,0.014],[76,0.021],[79,0.029],[82,0.038],[85,0.043],[88,0.039],[91,0.027],[94,0.015],[97,0.009],[100,0.004],[102,0],[105,0.006],[108,0.012],[112,0.019],[116,0.022],[120,0.026],[124,0.029],[128,0.031],[132,0.029],[136,0.021],[140,0.014],[143,0.006],[145,0.003],[148,0.012],[152,0.017],[156,0.02],[160,0.022],[165,0.019],[170,0.021],[175,0.024],[180,0.014],[184,0.006],[187,0.003],[190,0.009],[194,0.016],[197,0.02],[200,0.024]];
const intH = [[0,0],[3,0.003],[5,0.005],[8,0.006],[10,0.005],[13,0.005],[15,0.002],[18,0.012],[21,0.02],[24,0.025],[27,0.03],[30,0.038],[33,0.035],[36,0.03],[38,0.032],[40,0.03],[42,0.032],[44,0.035],[46,0.03],[47,0.034],[50,0.033],[53,0.03],[56,0.022],[59,0.012],[62,0.008],[64.5,0.002],[67,0.005],[70,0.01],[73,0.012],[76,0.02],[79,0.03],[82,0.04],[85,0.045],[88,0.04],[91,0.028],[94,0.016],[97,0.01],[100,0.005],[102,0],[105,0.005],[108,0.01],[112,0.018],[116,0.02],[120,0.025],[124,0.028],[128,0.032],[132,0.03],[136,0.022],[140,0.015],[143,0.005],[145,0.002],[148,0.01],[152,0.015],[156,0.018],[160,0.02],[165,0.018],[170,0.022],[175,0.025],[180,0.015],[184,0.005],[187,0.002],[190,0.008],[194,0.015],[197,0.018],[200,0.022]];

// (i) velocity z
const gpsI = [[0,0],[1.4,0.03],[2.3,0.09],[3.3,0.05],[3.9,0.05],[4.8,0.28],[5.6,0.27],[6.2,0.3],[7.2,0.36],[7.8,0.35],[8.3,0.79],[8.9,0.79],[9.3,0.25],[9.9,0.26],[10.5,0.16],[11.4,0.1],[12,0.08],[12.8,0.12],[13.6,0.11],[14.5,0.03],[15.3,0.07],[16.1,0.1],[16.9,0.14],[17.4,0.08],[18,0.16],[18.8,0.12],[19.8,0.23],[20.7,0.19],[21.3,0.24],[22.1,0.17],[22.7,0.21],[23.6,0.23],[24.6,0.29],[25.2,0.22],[26,0.25],[26.6,0.2],[27.5,0.21],[28.5,0.14],[29.5,0.11],[30.4,0.09],[31.4,0.1],[32.4,0.06],[33.3,0.06],[34.3,0.04],[35.3,0.07],[36.2,0.02],[37.2,0.04],[38.2,0.01],[39.1,0.03],[40.1,0],[42.1,0.01],[44,0],[45.9,0.01],[46.9,0],[47.9,0.03],[49.8,0.04],[51.7,0],[53.7,0],[55.6,0.04],[57.6,0.02],[59.5,0.03],[61.4,0.02],[63.4,0.04],[65.3,0.01],[67.2,0],[69.2,0.03],[71.1,0.08],[73.1,0.07],[75,0.08],[76.9,0.07],[78.9,0.06],[80.8,0.05],[82.8,0.03],[84.7,0.02],[86.6,0.03],[88.6,0],[90.5,0.02],[92.4,0.02],[94.4,0],[96.3,0.04],[98.3,0.06],[100.2,0.07],[102.1,0.07],[104.1,0.06],[106,0.05],[107.9,0.07],[109.9,0.06],[111.8,0.08],[113.8,0.06],[115.7,0.07],[117.6,0.08],[119.6,0.07],[121.5,0.1],[123.4,0.08],[125.4,0.08],[127.3,0.08],[129.3,0.07],[130.2,0.04],[131.2,0.02],[133.1,0.02],[135.1,0.02],[137,0.01],[139,0],[140.9,0],[142.8,0.01],[144.8,0.02],[146.7,0.01],[148.6,0.02],[150.6,0.01],[152.5,0],[154.5,0],[156.4,0.04],[158.3,0.02],[160.3,0.04],[162.2,0.03],[164.1,0.05],[166.1,0.06],[168,0.07],[170,0.05],[171.9,0.06],[173.8,0.06],[175.8,0.08],[177.7,0.08],[179.7,0.07],[181.6,0.08],[183.5,0.06],[185.5,0.07],[187.4,0.07],[189.3,0.06],[191.3,0.07],[193.2,0.08],[195.2,0.09],[196.1,0.1],[198.1,0.09],[200,0.08]];
const extI = [[0,0],[50,0],[100,0],[150,0],[200,0]];
const intI = [[0,0],[50,0],[100,0],[150,0],[200,0]];

// ---- Labels ----
const seriesNames = ['GPS', 'Ext. VD', 'Int. VD'];
const seriesColors = ['#0000ff', '#008000', '#ff0000'];
const captionTags = ['(a)', '(b)', '(c)', '(d)', '(e)', '(f)', '(g)', '(h)', '(i)'];
const captionTitles = ['Rate Gyro Bias', 'Rate Gyro Bias', 'Rate Gyro Bias',
  'Accelerometer Bias', 'Accelerometer Bias', 'Accelerometer Bias',
  'Velocity', 'Velocity', 'Velocity'];
const captionSymbols = ['b', 'b', 'b', 'b', 'b', 'b', 'v', 'v', 'v'];
const captionSubs = ['ωx', 'ωy', 'ωz', 'a x', 'a y', 'a z', 'x', 'y', 'z'];
const yNameSubs = ['bω', 'bω', 'bω', 'ba', 'ba', 'ba', 'v', 'v', 'v'];
const yNameSubSubs = ['x', 'y', 'z', 'x', 'y', 'z', 'x', 'y', 'z'];
const xName = 'time(s)';
const exponentTexts = ['-3', '-4', '-4'];

const SANS = '"Liberation Sans", Arial, Helvetica, sans-serif';
const SERIF = '"DejaVu Serif", "Liberation Serif", serif';

// Panel layout: plot box [left, top, width, height], x range/step, y range/step/last labelled tick
const panels = [
  { data: [gpsA, extA, intA], box: [50, 25, 343, 270], x: [200, 50], y: [1.2, 0.2, 1], yGap: 23, cap: [206, 349], exp: [50, 17] },
  { data: [gpsB, extB, intB], box: [451, 18.5, 350, 275], x: [200, 50], y: [6, 1, 5], yGap: 16, cap: [613, 349], exp: [451, 10] },
  { data: [gpsC, extC, intC], box: [858, 18.3, 352, 275], x: [200, 50], y: [8, 1, 8], yGap: 16, cap: [1022, 349], exp: [861, 11] },
  { data: [gpsD, extD, intD], box: [60.7, 404, 333.6, 261], x: [100, 20], y: [0.045, 0.005, 0.045], yGap: 40, cap: [226, 718] },
  { data: [gpsE, extE, intE], box: [464.3, 399, 337.4, 266], x: [100, 20], y: [0.06, 0.01, 0.06], yGap: 34, cap: [632, 718] },
  { data: [gpsF, extF, intF], box: [872.3, 398.3, 337.7, 266.7], x: [100, 20], y: [0.1, 0.01, 0.1], yGap: 35, cap: [1040, 718] },
  { data: [gpsG, extG, intG], box: [50, 768.3, 343.3, 269.4], x: [200, 50], y: [0.7, 0.1, 0.6], yGap: 28, cap: [206, 1092] },
  { data: [gpsH, extH, intH], box: [459, 768.3, 342.7, 269.4], x: [200, 50], y: [0.7, 0.1, 0.6], yGap: 27, cap: [613, 1092] },
  { data: [gpsI, extI, intI], box: [866, 768.3, 344, 269.4], x: [200, 50], y: [0.8, 0.1, 0.8], yGap: 28, cap: [1022, 1092] }
];

const grid = [], xAxis = [], yAxis = [], series = [], legend = [], graphic = [];
const axisLine = { show: true, onZero: false, lineStyle: { color: '#000', width: 1 } };
const axisTick = { show: true, inside: true, length: 4, lineStyle: { color: '#000', width: 1 } };
const splitLine = { show: true, lineStyle: { color: '#8a8a8a', width: 1, type: [1, 2] } };
const labelStyle = { fontSize: 11, fontFamily: SANS, color: '#1a1a1a' };

panels.forEach((p, i) => {
  const [L, T, W, H] = p.box;
  grid.push({ left: L, top: T, width: W, height: H, show: true, borderColor: '#000', borderWidth: 1,
    backgroundColor: '#fff', containLabel: false, outerBoundsMode: 'none' });

  const xBase = { gridIndex: i, type: 'value', min: 0, max: p.x[0], interval: p.x[1], axisLine, axisTick };
  xAxis.push(Object.assign({}, xBase, {
    position: 'bottom', splitLine,
    axisLabel: Object.assign({ margin: 4 }, labelStyle),
    name: xName, nameLocation: 'middle', nameGap: 15,
    nameTextStyle: { fontSize: 10.5, fontFamily: SANS, color: '#1a1a1a' }
  }));
  xAxis.push(Object.assign({}, xBase, { position: 'top', splitLine: { show: false }, axisLabel: { show: false } }));

  const yBase = { gridIndex: i, type: 'value', min: 0, max: p.y[0], interval: p.y[1], axisLine, axisTick };
  const lastLabel = p.y[2];
  yAxis.push(Object.assign({}, yBase, {
    position: 'left', splitLine,
    axisLabel: Object.assign({ margin: 5,
      formatter: v => (v > lastLabel + 1e-9 ? '' : String(+v.toFixed(4))) }, labelStyle),
    name: '{m||e}{s|' + yNameSubs[i] + '}{t|' + yNameSubSubs[i] + '}{m||}',
    nameLocation: 'middle', nameGap: p.yGap, nameRotate: 90,
    nameTextStyle: {
      fontFamily: SANS, color: '#1a1a1a',
      rich: {
        m: { fontSize: 12, fontFamily: SANS, lineHeight: 18, verticalAlign: 'middle', color: '#1a1a1a' },
        s: { fontSize: 9, fontFamily: SANS, lineHeight: 10, verticalAlign: 'bottom', color: '#1a1a1a' },
        t: { fontSize: 7, fontFamily: SANS, lineHeight: 3, verticalAlign: 'bottom', color: '#1a1a1a' }
      }
    }
  }));
  yAxis.push(Object.assign({}, yBase, { position: 'right', splitLine: { show: false }, axisLabel: { show: false } }));

  // Traces sit on their own layer so they stay above the axis lines
  seriesNames.forEach((name, k) => {
    series.push({
      type: 'line', name, xAxisIndex: 2 * i, yAxisIndex: 2 * i, data: p.data[k],
      showSymbol: false, symbol: 'none', clip: false, zlevel: 1, z: 2 + k,
      lineStyle: { color: seriesColors[k], width: 1.4 },
      itemStyle: { color: seriesColors[k] },
      emphasis: { disabled: true }
    });
  });

  legend.push({
    data: seriesNames, orient: 'vertical', selectedMode: false,
    right: 1222 - (L + W) + 3, top: T + 2,
    backgroundColor: '#fff', borderColor: '#000', borderWidth: 1,
    padding: [4, 5, 3, 4], itemGap: 2, itemWidth: 22, itemHeight: 2, icon: 'rect',
    textStyle: { fontSize: 10.5, fontFamily: SANS, color: '#000', padding: [0, 0, 0, -1] },
    zlevel: 2, z: 10
  });

  // Caption under each panel
  graphic.push({
    type: 'text', x: p.cap[0], y: p.cap[1], silent: true,
    style: {
      text: '{n|' + captionTags[i] + ' ' + captionTitles[i] + ' (}{b|' + captionSymbols[i] + '}{s|' + captionSubs[i] + '}{n|)}',
      align: 'center', verticalAlign: 'middle',
      rich: {
        n: { fontFamily: SERIF, fontSize: 20, lineHeight: 26, color: '#000' },
        b: { fontFamily: SERIF, fontSize: 20, fontWeight: 'bold', lineHeight: 26, color: '#000' },
        s: { fontFamily: SERIF, fontSize: 14, fontStyle: 'italic', lineHeight: 14, verticalAlign: 'bottom', color: '#000' }
      }
    }
  });

  // Exponent multiplier above the y axis of the gyro bias panels
  if (p.exp) {
    graphic.push({
      type: 'text', x: p.exp[0], y: p.exp[1], silent: true,
      style: {
        text: '{m|x 10}{p|' + exponentTexts[i] + '}',
        align: 'left', verticalAlign: 'middle',
        rich: {
          m: { fontSize: 11, fontFamily: SANS, lineHeight: 16, verticalAlign: 'bottom', color: '#1a1a1a' },
          p: { fontSize: 8, fontFamily: SANS, lineHeight: 9, verticalAlign: 'top', color: '#1a1a1a' }
        }
      }
    });
  }
});

const chart = echarts.init(document.getElementById('chart'), null, { renderer: 'canvas' });
chart.setOption({
  backgroundColor: '#fff',
  animation: false,
  grid, xAxis, yAxis, series, legend, graphic
});
</script>
</body>
</html>
